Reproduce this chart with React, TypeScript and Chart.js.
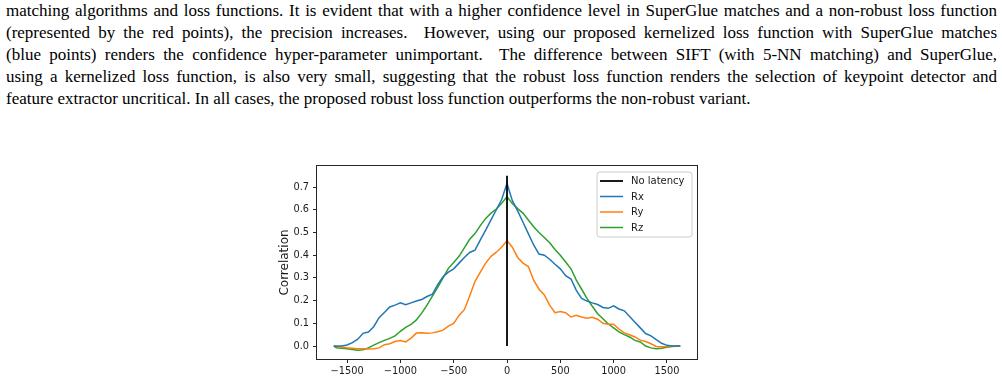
import React, { useEffect, useRef } from "react";
import { Chart, registerables } from "chart.js";

Chart.register(...registerables);

// ---- text ----
const paragraphLines = [
  "matching algorithms and loss functions. It is evident that with a higher confidence level in SuperGlue matches and a non-robust loss function",
  "(represented by the red points), the precision increases.  However, using our proposed kernelized loss function with SuperGlue matches",
  "(blue points) renders the confidence hyper-parameter unimportant.  The difference between SIFT (with 5-NN matching) and SuperGlue,",
  "using a kernelized loss function, is also very small, suggesting that the robust loss function renders the selection of keypoint detector and",
  "feature extractor uncritical. In all cases, the proposed robust loss function outperforms the non-robust variant.",
];

// ---- data ----
const lags = [
  -1625, -1600, -1550, -1500, -1450, -1400, -1350, -1300, -1250, -1200,
  -1150, -1100, -1050, -1000, -950, -900, -850, -800, -750, -700,
  -650, -600, -550, -500, -450, -400, -350, -300, -250, -200,
  -150, -100, -50, 0, 50, 100, 150, 200, 250, 300,
  350, 400, 450, 500, 550, 600, 650, 700, 750, 800,
  850, 900, 950, 1000, 1050, 1100, 1150, 1200, 1250, 1300,
  1350, 1400, 1450, 1500, 1550, 1600, 1625,
];

const rx = [
  0, 0, 0, 0.005, 0.015, 0.03, 0.056, 0.062, 0.085, 0.125,
  0.148, 0.172, 0.18, 0.19, 0.182, 0.19, 0.198, 0.205, 0.218, 0.228,
  0.27, 0.305, 0.325, 0.34, 0.365, 0.39, 0.412, 0.422, 0.467, 0.51,
  0.555, 0.6, 0.645, 0.716, 0.64, 0.595, 0.545, 0.495, 0.445, 0.405,
  0.4, 0.382, 0.36, 0.34, 0.31, 0.295, 0.245, 0.21, 0.198, 0.19,
  0.183, 0.17, 0.166, 0.177, 0.163, 0.155, 0.13, 0.105, 0.08, 0.055,
  0.045, 0.028, 0.012, 0.003, 0, 0, 0,
];

const ry = [
  0, -0.002, -0.005, -0.008, -0.01, -0.012, -0.012, -0.013, -0.012, -0.008,
  0.006, 0.01, 0.02, 0.024, 0.018, 0.035, 0.057, 0.058, 0.056, 0.058,
  0.063, 0.07, 0.088, 0.1, 0.135, 0.16, 0.22, 0.285, 0.325, 0.365,
  0.395, 0.413, 0.435, 0.464, 0.435, 0.39, 0.365, 0.35, 0.29, 0.25,
  0.225, 0.18, 0.147, 0.152, 0.147, 0.128, 0.135, 0.128, 0.122, 0.127,
  0.118, 0.1, 0.096, 0.096, 0.075, 0.058, 0.05, 0.04, 0.026, 0.02,
  0.01, -0.002, -0.003, -0.003, 0, 0, 0,
];

const rz = [
  0, -0.008, -0.01, -0.012, -0.015, -0.018, -0.016, -0.008, 0.004, 0.015,
  0.025, 0.034, 0.045, 0.065, 0.082, 0.095, 0.115, 0.145, 0.18, 0.22,
  0.258, 0.3, 0.342, 0.368, 0.395, 0.432, 0.47, 0.495, 0.53, 0.562,
  0.585, 0.603, 0.628, 0.657, 0.627, 0.605, 0.585, 0.555, 0.525, 0.5,
  0.478, 0.455, 0.425, 0.4, 0.37, 0.34, 0.29, 0.25, 0.21, 0.175,
  0.142, 0.12, 0.097, 0.08, 0.062, 0.05, 0.04, 0.025, 0.018, 0.0,
  -0.008, -0.012, -0.01, -0.005, -0.002, 0, 0,
];

const noLatencyX = [0, 0];
const noLatencyY = [0, 0.75];

const xTicks = [-1500, -1000, -500, 0, 500, 1000, 1500];
const yTicks = [0, 0.1, 0.2, 0.3, 0.4, 0.5, 0.6, 0.7];

const seriesLabels = ["No latency", "Rx", "Ry", "Rz"];
const seriesColors = ["#000000", "#1f77b4", "#ff7f0e", "#2ca02c"];

const FONT = "'DejaVu Sans', sans-serif";
const TEXT_COLOR = "#1a1a1a";

const frameAndLegend = {
  id: "frameAndLegend",
  afterDatasetsDraw(chart: any) {
    const { ctx, chartArea: a } = chart;
    ctx.save();
    ctx.strokeStyle = "#262626";
    ctx.lineWidth = 1;
    ctx.strokeRect(a.left - 0.5, a.top - 0.5, a.right - a.left + 1, a.bottom - a.top + 1);

    // legend
    const bw = 95;
    const bh = 65;
    const bx = a.right - 5 - bw;
    const by = a.top + 6;
    ctx.beginPath();
    const r = 3;
    ctx.moveTo(bx + r, by);
    ctx.lineTo(bx + bw - r, by);
    ctx.quadraticCurveTo(bx + bw, by, bx + bw, by + r);
    ctx.lineTo(bx + bw, by + bh - r);
    ctx.quadraticCurveTo(bx + bw, by + bh, bx + bw - r, by + bh);
    ctx.lineTo(bx + r, by + bh);
    ctx.quadraticCurveTo(bx, by + bh, bx, by + bh - r);
    ctx.lineTo(bx, by + r);
    ctx.quadraticCurveTo(bx, by, bx + r, by);
    ctx.closePath();
    ctx.fillStyle = "rgba(255,255,255,0.85)";
    ctx.fill();
    ctx.strokeStyle = "#cccccc";
    ctx.lineWidth = 1;
    ctx.stroke();

    ctx.font = `10px ${FONT}`;
    ctx.textBaseline = "middle";
    ctx.textAlign = "left";
    chart.data.datasets.forEach((ds: any, i: number) => {
      const yy = by + 9 + i * 15.5;
      ctx.beginPath();
      ctx.strokeStyle = ds.borderColor;
      ctx.lineWidth = i === 0 ? 1.8 : 1.5;
      ctx.moveTo(bx + 3, yy);
      ctx.lineTo(bx + 26, yy);
      ctx.stroke();
      ctx.fillStyle = TEXT_COLOR;
      ctx.fillText(ds.label, bx + 34, yy + 0.5);
    });
    ctx.restore();
  },
};

function ChartBox() {
  const ref = useRef<HTMLCanvasElement | null>(null);
  useEffect(() => {
    if (!ref.current) return;
    const mk = (xs: number[], ys: number[]) => xs.map((x, i) => ({ x, y: ys[i] }));
    const chart = new Chart(ref.current, {
      type: "line",
      data: {
        datasets: [
          { label: seriesLabels[0], data: mk(noLatencyX, noLatencyY), borderColor: seriesColors[0], borderWidth: 1.8 },
          { label: seriesLabels[1], data: mk(lags, rx), borderColor: seriesColors[1], borderWidth: 1.5 },
          { label: seriesLabels[2], data: mk(lags, ry), borderColor: seriesColors[2], borderWidth: 1.5 },
          { label: seriesLabels[3], data: mk(lags, rz), borderColor: seriesColors[3], borderWidth: 1.5 },
        ],
      },
      options: {
        responsive: false,
        animation: false,
        devicePixelRatio: 1,
        layout: { padding: { top: 6, right: 13, left: 0, bottom: 0 } },
        elements: { point: { radius: 0 }, line: { tension: 0, borderCapStyle: "butt" } },
        plugins: { legend: { display: false }, tooltip: { enabled: false } },
        scales: {
          x: {
            type: "linear",
            min: -1782,
            max: 1782,
            afterFit: (s: any) => {
              s.height = 22;
              s.paddingLeft = 0;
              s.paddingRight = 0;
              s.paddingTop = 0;
              s.paddingBottom = 0;
            },
            afterBuildTicks: (s: any) => { s.ticks = xTicks.map((v) => ({ value: v })); },
            border: { display: false },
            grid: { drawOnChartArea: false, drawTicks: true, tickLength: 4, color: "#262626" },
            ticks: {
              autoSkip: false,
              maxRotation: 0,
              padding: 3,
              color: TEXT_COLOR,
              font: { family: FONT, size: 9.8 },
              callback: (v: any) => (Number(v) < 0 ? "\u2212" + Math.abs(Number(v)) : String(v)),
            },
          },
          y: {
            type: "linear",
            min: -0.057,
            max: 0.7925,
            afterFit: (s: any) => {
              s.width = 47;
              s.paddingLeft = 0;
              s.paddingRight = 0;
              s.paddingTop = 0;
              s.paddingBottom = 0;
            },
            afterBuildTicks: (s: any) => { s.ticks = yTicks.map((v) => ({ value: v })); },
            border: { display: false },
            grid: { drawOnChartArea: false, drawTicks: true, tickLength: 4, color: "#262626" },
            title: {
              display: true,
              text: "Correlation",
              color: TEXT_COLOR,
              font: { family: FONT, size: 12 },
              padding: { top: 8, bottom: 0 },
            },
            ticks: {
              autoSkip: false,
              padding: 4,
              color: TEXT_COLOR,
              font: { family: FONT, size: 9.8 },
              callback: (v: any) => Number(v).toFixed(1),
            },
          },
        },
      },
      plugins: [frameAndLegend],
    } as any);
    return () => chart.destroy();
  }, []);
  return (
    <canvas
      ref={ref}
      width={440}
      height={221}
      style={{ position: "absolute", left: 270, top: 160, width: 440, height: 221 }}
    />
  );
}

export default function App() {
  return (
    <div
      style={{
        position: "absolute",
        left: 0,
        top: 0,
        width: 1002,
        height: 381,
        background: "#fff",
        overflow: "hidden",
      }}
    >
      <div
        style={{
          position: "absolute",
          left: 6,
          top: 0,
          width: 991,
          fontFamily: "'Liberation Serif', 'Times New Roman', serif",
          fontSize: 17,
          lineHeight: "22px",
          color: "#000",
        }}
      >
        {paragraphLines.map((line, i) => (
          <div
            key={i}
            style={{
              height: 22,
              overflow: "hidden",
              textAlign: i === paragraphLines.length - 1 ? "left" : "justify",
              textAlignLast: i === paragraphLines.length - 1 ? "left" : "justify",
              whiteSpace: "pre-wrap",
            }}
          >
            {line}
          </div>
        ))}
      </div>
      <ChartBox />
    </div>
  );
}
